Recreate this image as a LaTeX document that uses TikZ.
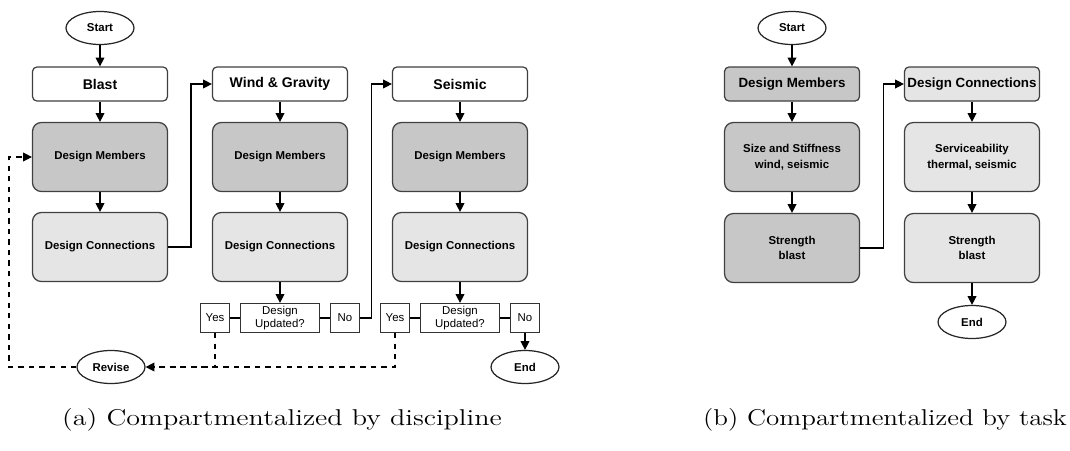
\documentclass[tikz,border=0pt]{standalone}
\usepackage{fontspec}
\setsansfont{Liberation Sans}
\usetikzlibrary{arrows.meta,shapes.geometric}

\begin{document}
\begin{tikzpicture}[x=0.02cm,y=-0.02cm,>={Triangle[length=5pt,width=5pt]},line width=0.7pt,
  hdr/.style={draw=black!75,rounded corners=2.5pt,fill=white,minimum width=2.7cm,minimum height=0.68cm,inner sep=1pt,font=\sffamily\fontsize{8}{9}\selectfont\bfseries},
  mem/.style={hdr,rounded corners=5pt,fill=black!22,minimum height=1.38cm,align=center,font=\sffamily\fontsize{6.5}{9}\selectfont\bfseries},
  con/.style={mem,fill=black!10},
  term/.style={draw=black!85,ellipse,fill=white,minimum width=1.36cm,minimum height=0.66cm,inner sep=0pt,font=\sffamily\fontsize{6.5}{8}\selectfont\bfseries},
  yn/.style={draw=black!80,minimum width=0.58cm,minimum height=0.58cm,inner sep=0pt,font=\sffamily\fontsize{6.5}{8}\selectfont},
  upd/.style={yn,minimum width=1.58cm,align=center,font=\sffamily\fontsize{6.5}{7.2}\selectfont},
  captxt/.style={font=\fontsize{13}{15}\selectfont,inner sep=0pt}]
\useasboundingbox (0,0) rectangle (1070,450);

% (a) by discipline
\node[term] (s1) at (100,28) {Start};
\node[hdr] (b1) at (100,84) {Blast};
\node[mem] (m1) at (100,157) {Design Members};
\node[con] (c1) at (100,247) {Design Connections};
\node[hdr] (b2) at (280,84) {Wind \& Gravity};
\node[mem] (m2) at (280,157) {Design Members};
\node[con] (c2) at (280,247) {Design Connections};
\node[yn] (y1) at (215,318) {Yes};
\node[upd] (u1) at (280,318) {Design\\Updated?};
\node[yn] (n1) at (345,318) {No};
\node[hdr] (b3) at (460,84) {Seismic};
\node[mem] (m3) at (460,157) {Design Members};
\node[con] (c3) at (460,247) {Design Connections};
\node[yn] (y2) at (395,318) {Yes};
\node[upd] (u2) at (460,318) {Design\\Updated?};
\node[yn] (n2) at (525,318) {No};
\node[term] (e1) at (525,367) {End};
\node[term] (rv) at (111,367) {Revise};
\coordinate (lp) at (9,367);

\draw[->] (s1) -- (b1);
\draw[->] (b1) -- (m1);
\draw[->] (m1) -- (c1);
\draw[->] (b2) -- (m2);
\draw[->] (m2) -- (c2);
\draw[->] (c2) -- (u1);
\draw[->] (b3) -- (m3);
\draw[->] (m3) -- (c3);
\draw[->] (c3) -- (u2);
\draw (y1) -- (u1) -- (n1);
\draw (y2) -- (u2) -- (n2);
\draw[->] (c1.east) -- ++(23,0) |- (b2.west);
\draw[->] (n1.east) -- ++(11,0) |- (b3.west);
\draw[->] (n2) -- (e1);
\draw[dashed,->] (y1.south) |- (rv.east);
\draw[dashed] (y2.south) |- (rv.east);
\draw[dashed,->] (rv.west) -- (lp) |- (m1.west);

% (b) by task
\node[term] (s2) at (792,28) {Start};
\node[hdr,fill=black!22,font=\sffamily\fontsize{7.6}{9}\selectfont\bfseries] (dm) at (792,84) {Design Members};
\node[mem] (sz) at (792,157) {Size and Stiffness\\wind, seismic};
\node[mem] (st1) at (792,248) {Strength\\blast};
\node[hdr,fill=black!10,font=\sffamily\fontsize{7.6}{9}\selectfont\bfseries] (dc) at (972,84) {Design Connections};
\node[con] (sv) at (972,157) {Serviceability\\thermal, seismic};
\node[con] (st2) at (972,248) {Strength\\blast};
\node[term] (e2) at (972,322) {End};

\draw[->] (s2) -- (dm);
\draw[->] (dm) -- (sz);
\draw[->] (sz) -- (st1);
\draw[->] (st1.east) -- ++(23,0) |- (dc.west);
\draw[->] (dc) -- (sv);
\draw[->] (sv) -- (st2);
\draw[->] (st2) -- (e2);

\node[captxt] (ca) at (282,420) {\scalebox{1.23}[1]{(a) Compartmentalized by discipline}};
\node[captxt] (cb) at (885,420) {\scalebox{1.18}[1]{(b) Compartmentalized by task}};
\end{tikzpicture}
\end{document}
